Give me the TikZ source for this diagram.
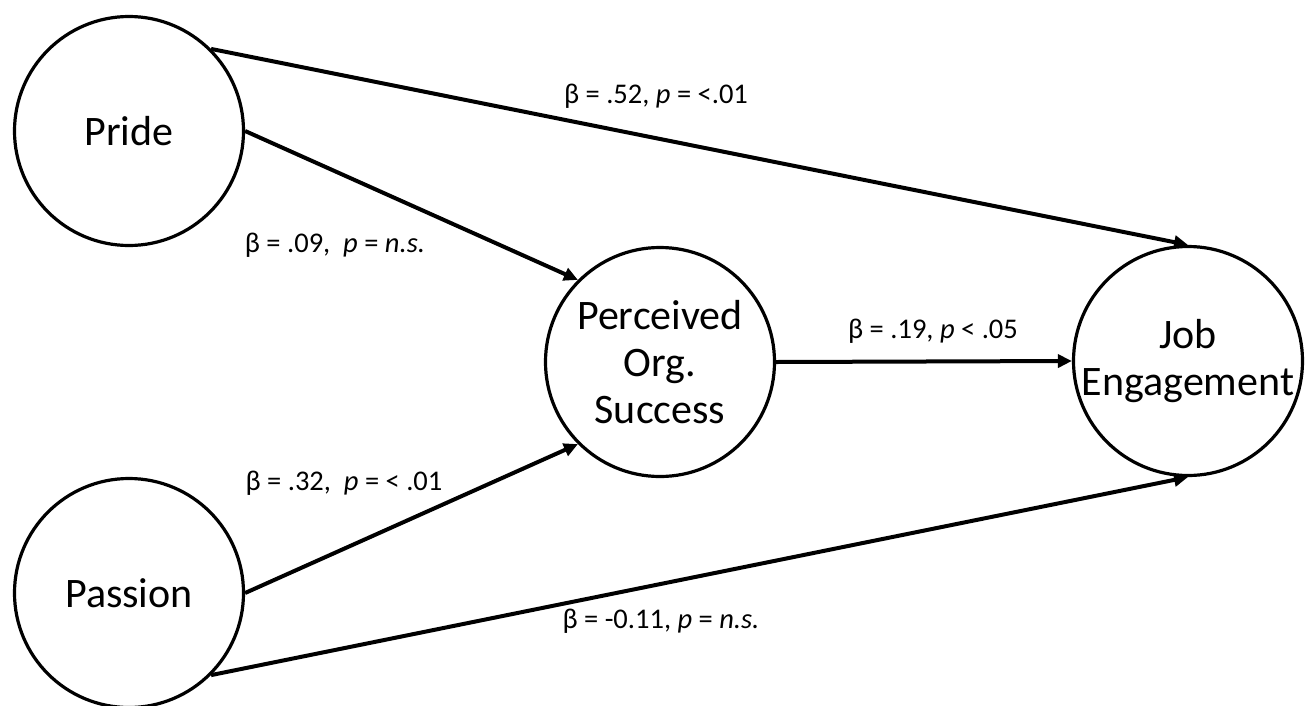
\documentclass[tikz,border=0pt]{standalone}
\usepackage{fontspec}
\setmainfont{Carlito}
\usetikzlibrary{arrows.meta, positioning}
\tikzset{
  latent/.style={circle, draw, line width=3.2pt, minimum size=229pt,
    inner sep=0pt, align=center, font=\fontsize{42}{47}\selectfont},
  line/.style={-{Triangle[length=14pt, width=13pt]}, line width=4pt},
  coef/.style={font=\fontsize{28.5}{34}\selectfont, inner sep=0pt}
}

\begin{document}
\begin{tikzpicture}[x=1pt, y=-1pt]
\fill[white] (0,0) rectangle (1310,705);
\useasboundingbox (0,0) rectangle (1310,705);

% ---- constructos ----
\node[latent] (pride) at (129,131) {Pride};
\node[latent] (passion) at (129,593) {Passion};
\node[latent] (success) at (660,362) {Perceived\\Org.\\Success};
\node[latent] (engage) at (1188,361) {Job\\Engagement};

% ---- coeficientes ----
\node[coef] (bpe) at (656,96) {β = .52, \textit{p} = <.01};
\node[coef] (bps) at (335,245) {β = .09,\ \ \textit{p} = \textit{n.s.}};
\node[coef] (bse) at (933,331) {β = .19, \textit{p} < .05};
\node[coef] (bas) at (344,483) {β = .32,\ \ \textit{p} = < .01};
\node[coef] (bae) at (661,621) {β = -0.11, \textit{p} = \textit{n.s.}};

% ---- conexiones ----
\draw[line] (pride.north east) -- (engage.north);
\draw[line] (pride.east) -- (success.north west);
\draw[line] (success.east) -- (engage.west);
\draw[line] (passion.east) -- (success.south west);
\draw[line] (passion.south east) -- (engage.south);

\end{tikzpicture}
\end{document}
